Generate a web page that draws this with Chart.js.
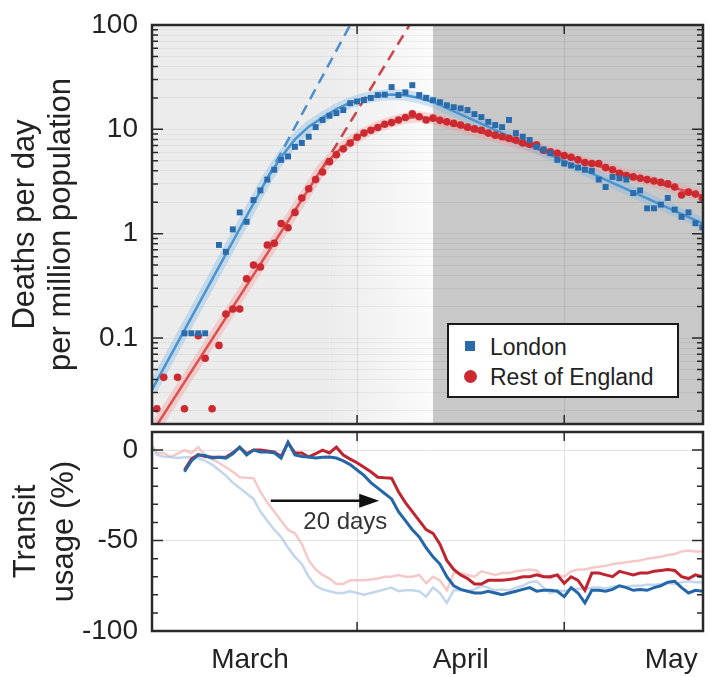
<!DOCTYPE html>
<html lang="en">
<head>
    <meta charset="UTF-8">
    <title>Deaths and transit usage - London vs Rest of England</title>
    <script src="https://cdn.jsdelivr.net/npm/chart.js"></script>
    <style>
        body {
            margin: 0;
            background: #fff;
            font-family: 'Liberation Sans', Arial, sans-serif;
        }

        .figure {
            position: relative;
            width: 728px;
            height: 677px;
        }

        #deathsChart {
            position: absolute;
            left: 0;
            top: 0;
        }

        #transitChart {
            position: absolute;
            left: 0;
            top: 425px;
        }

        .legend {
            position: absolute;
            left: 447px;
            top: 323px;
            width: 228px;
            height: 71px;
            border: 2px solid #1a1a1a;
            background: #fff;
            color: #222;
            font-size: 23px;
        }

        .legend .item {
            position: absolute;
            left: 41px;
            line-height: 30px;
            white-space: nowrap;
        }

        .legend .swatch {
            position: absolute;
        }

        .legend .square {
            left: 16px;
            top: 16px;
            width: 10px;
            height: 10px;
            background: #2a6cab;
        }

        .legend .dot {
            left: 15px;
            top: 45px;
            width: 13px;
            height: 13px;
            border-radius: 50%;
            background: #cc2a30;
        }
    </style>
</head>
<body>
    <div class="figure">
        <canvas id="deathsChart" width="728" height="440"></canvas>
        <canvas id="transitChart" width="728" height="252"></canvas>
        <div class="legend">
            <span class="swatch square"></span>
            <div class="item" style="top: 7px;">London</div>
            <span class="swatch dot"></span>
            <div class="item" style="top: 37px;">Rest of England</div>
        </div>
    </div>

    <script>
        // days are counted from 1 March (0 = 1 Mar, 31 = 1 Apr, 61 = 1 May)
        const xMin = 1.3;
        const xMax = 81.1;
        const monthStarts = [31, 61];
        const monthMids = [15.5, 46, 76.5];
        const monthLabels = ['March', 'April', 'May'];

        // top panel: deaths per day per million, one value per day from day 1
        const deathFirstDay = 1;
        const deathTickLabels = [0.1, 1, 10, 100];
        const londonDeaths = [
            0.037, null, null, null, null, 0.111, 0.111, 0.111, 0.111, null,
            0.78, 0.67, 1.1, 1.6, 1.3, 2.1, 2.6, 3.3, 4.1, 5.1,
            5.5, 6.8, 7.4, 8.5, 10.5, 12.3, 13.5, 14.3, 15.3, 17.8,
            18.5, 19.1, 20, 21.3, 21.5, 25.4, 21.3, 22.6, 26.5, 21.3,
            20, 19, 18.2, 17, 16.3, 15.9, 15.3, 14, 13.1, 11.8,
            11, 10.5, 12.3, 9.2, 8.5, 7.9, 6.8, 6.4, 5.9, 5.1,
            4.7, 4.5, 4.3, 4.1, 4.0, 3.3, 2.8, 3.5, 3.4, 3.3,
            2.45, 2.6, 1.75, 1.75, 1.9, 2.2, 1.7, 1.45, 1.6, 1.26,
            1.15
        ];
        const restDeaths = [
            null, 0.021, 0.042, null, 0.042, 0.021, null, 0.105, 0.064, 0.021,
            0.085, 0.17, 0.19, 0.19, 0.37, 0.5, 0.48, 0.78, 0.81, 1.25,
            1.14, 1.6, 2.2, 2.7, 3.3, 3.9, 4.9, 5.7, 6.5, 7.4,
            8.4, 9.2, 9.8, 10.4, 11.2, 11.6, 12.3, 13.0, 14.1, 13.2,
            12.3, 12.8, 12.2, 11.8, 11.4, 11.0, 10.5, 10.1, 9.8, 9.2,
            8.8, 8.5, 8.2, 7.9, 7.4, 7.2, 7.1, 6.3, 6.1, 5.9,
            5.6, 5.4, 5.1, 4.8, 4.7, 4.7, 4.3, 4.1, 3.8, 3.6,
            3.5, 3.4, 3.3, 3.2, 3.1, 3.0, 2.8, 2.35, 2.5, 2.4,
            2.2
        ];

        // fitted curves (knots)
        const londonFitDays = [1.3, 18, 20, 22, 24, 26, 28, 30, 32, 34, 36, 38, 40, 42, 81.1];
        const londonFit = [0.032, 3.4, 5.4, 8.0, 10.6, 13.0, 15.6, 18.0, 19.8, 21.0, 21.6, 21.2, 20.0, 18.3, 1.25];
        const restFitDays = [1.3, 26, 28, 30, 32, 34, 36, 38, 40, 42, 81.1];
        const restFit = [0.0124, 4.3, 6.0, 7.6, 9.2, 10.6, 11.8, 12.8, 13.2, 12.6, 2.3];

        // early exponential growth, extended (dashed)
        const londonTrendDays = [18, 30.0];
        const londonTrend = [3.4, 100];
        const restTrendDays = [26, 38.6];
        const restTrend = [4.3, 100];

        // bottom panel: transit usage (%), one value per day from day -14
        const transitFirstDay = -14;
        const transitShift = 20;
        const transitTickLabels = [-100, -50, 0];
        const londonTransit = [
            -12, -6, -2.7, -3, -4.4, -4, -4.5, -2, 1.6, -2.7,
            0, -1, -1, -1.5, -4.4, 4.4, -2.7, -3.5, -3.8, -4.4,
            -4, -3.8, -4.4, -6, -8, -11, -14, -18, -21, -24,
            -27, -34, -39, -44, -48, -54, -59, -63, -70, -75,
            -77, -78, -79, -79, -78, -79, -80, -79, -78, -77,
            -76, -78, -77.5, -77.5, -78, -81, -76, -79, -84.5, -77.5,
            -77.5, -78, -77, -75, -76, -77.5, -77, -77.5, -76, -75,
            -73, -72.5, -76, -79, -77.5, -78,
            -77, -76.5, -77, -76, -76, -76.5, -75.5, -75, -75.5, -75,
            -75, -74.5, -74.5, -74, -73.5, -74, -73, -72.5, -73, -73
        ];
        const restTransit = [
            -11, -5, -2.5, -3.5, -4, -4, -4, -1.5, 1.6, -2,
            0, 0, -0.5, -1, -3.5, 4, -1.5, -1.6, -3.8, -2,
            0, -1.6, 1.6, -2.7, -5, -7, -9.5, -12, -15, -15.3,
            -15.5, -23, -29, -34, -39, -44, -46, -52, -61, -66,
            -69, -71, -74, -74, -72, -72, -72, -71.5, -71, -70,
            -70, -69, -70, -70, -69, -73.6, -70, -72, -77.5, -68,
            -68, -69, -70, -67, -68, -69, -68, -68, -67, -66.5,
            -66, -66.5, -70, -71, -69, -70,
            -67, -66, -66, -65, -64.5, -64, -63, -62.5, -62, -61.5,
            -61, -60, -59.5, -59, -58, -57.5, -56, -55.5, -56, -56
        ];

        // annotation and shading
        const shadeFadeStart = 27;
        const shiftedLockdown = 42;
        const arrowFromDay = 18.5;
        const arrowToDay = 34.2;
        const arrowLevel = -28;
        const arrowText = '20 days';
        const arrowTextDay = 29.3;
        const arrowTextLevel = -40;

        const FONT = "'Liberation Sans', Arial, sans-serif";
        Chart.defaults.font.family = FONT;
        Chart.defaults.color = '#222';

        const byDay = (first, values) => values.map((v, i) => ({ x: first + i, y: v }));
        const pairs = (xs, ys) => xs.map((x, i) => ({ x: x, y: ys[i] }));

        // minor grid values for the log axis
        const deathGrid = [];
        [-2, -1, 0, 1].forEach(e => {
            for (let m = 1; m <= 9; m++) {
                const v = +(m * Math.pow(10, e)).toPrecision(6);
                if (v >= 0.015) deathGrid.push(v);
            }
        });
        deathGrid.push(100);
        const deathMinor = deathGrid.filter(v => !deathTickLabels.includes(v));
        const transitMinor = [-90, -80, -70, -60, -40, -30, -20, -10];

        // keep the plot boxes exactly where the figure has them
        const fixWidth = w => s => { s.width = w; s.paddingTop = 0; s.paddingBottom = 0; };
        const fixHeight = h => s => { s.height = h; s.paddingLeft = 0; s.paddingRight = 0; };

        function makeFrame(yMajor, yMinor) {
            return {
                id: 'frame',
                afterDraw(chart) {
                    const { ctx, chartArea: a } = chart;
                    const xs = chart.scales.x, ys = chart.scales.y;
                    ctx.save();
                    ctx.strokeStyle = '#2a2a2a';
                    ctx.lineWidth = 1.5;
                    ctx.beginPath();
                    const mark = (v, len) => {
                        const p = ys.getPixelForValue(v);
                        if (p < a.top + 1 || p > a.bottom - 1) return;
                        ctx.moveTo(a.left, p); ctx.lineTo(a.left + len, p);
                        ctx.moveTo(a.right, p); ctx.lineTo(a.right - len, p);
                    };
                    yMinor.forEach(v => mark(v, 6));
                    yMajor.forEach(v => mark(v, 11));
                    monthStarts.forEach(v => {
                        const p = xs.getPixelForValue(v);
                        ctx.moveTo(p, a.top); ctx.lineTo(p, a.top + 9);
                        ctx.moveTo(p, a.bottom); ctx.lineTo(p, a.bottom - 9);
                    });
                    ctx.stroke();
                    ctx.lineWidth = 2.5;
                    ctx.strokeRect(a.left, a.top, a.right - a.left, a.bottom - a.top);
                    ctx.restore();
                }
            };
        }

        const shadePlugin = {
            id: 'shade',
            beforeDraw(chart) {
                const { ctx, chartArea: a } = chart;
                const xs = chart.scales.x;
                const xFade = xs.getPixelForValue(shadeFadeStart);
                const xLock = xs.getPixelForValue(shiftedLockdown);
                ctx.save();
                ctx.fillStyle = '#ececec';
                ctx.fillRect(a.left, a.top, xFade - a.left, a.bottom - a.top);
                const g = ctx.createLinearGradient(xFade, 0, xLock, 0);
                g.addColorStop(0, '#ececec');
                g.addColorStop(1, '#fbfbfb');
                ctx.fillStyle = g;
                ctx.fillRect(xFade, a.top, xLock - xFade, a.bottom - a.top);
                ctx.fillStyle = '#c8c8c8';
                ctx.fillRect(xLock, a.top, a.right - xLock, a.bottom - a.top);
                ctx.restore();
            }
        };

        const arrowPlugin = {
            id: 'shiftArrow',
            afterDatasetsDraw(chart) {
                const { ctx } = chart;
                const xs = chart.scales.x, ys = chart.scales.y;
                const x0 = xs.getPixelForValue(arrowFromDay);
                const x1 = xs.getPixelForValue(arrowToDay);
                const y = ys.getPixelForValue(arrowLevel);
                ctx.save();
                ctx.strokeStyle = '#111';
                ctx.fillStyle = '#111';
                ctx.lineWidth = 2.5;
                ctx.beginPath();
                ctx.moveTo(x0, y);
                ctx.lineTo(x1 - 16, y);
                ctx.stroke();
                ctx.beginPath();
                ctx.moveTo(x1, y);
                ctx.lineTo(x1 - 20, y - 7);
                ctx.lineTo(x1 - 20, y + 7);
                ctx.closePath();
                ctx.fill();
                ctx.font = '24px ' + FONT;
                ctx.textAlign = 'center';
                ctx.textBaseline = 'middle';
                ctx.fillStyle = '#333';
                ctx.fillText(arrowText, xs.getPixelForValue(arrowTextDay), ys.getPixelForValue(arrowTextLevel));
                ctx.restore();
            }
        };

        const lineSet = (data, color, width, extra) => Object.assign({
            data: data,
            showLine: true,
            borderColor: color,
            borderWidth: width,
            pointRadius: 0,
            fill: false,
            clip: 0
        }, extra || {});

        // Deaths chart
        new Chart(document.getElementById('deathsChart'), {
            type: 'scatter',
            data: {
                datasets: [
                    {
                        label: 'London',
                        data: byDay(deathFirstDay, londonDeaths),
                        pointStyle: 'rect',
                        pointRadius: 4.2,
                        backgroundColor: '#2a6cab',
                        borderWidth: 0
                    },
                    {
                        label: 'Rest of England',
                        data: byDay(deathFirstDay, restDeaths),
                        pointStyle: 'circle',
                        pointRadius: 3.8,
                        backgroundColor: '#cc2a30',
                        borderWidth: 0
                    },
                    lineSet(pairs(londonFitDays, londonFit), '#4a93cf', 2.5),
                    lineSet(pairs(restFitDays, restFit), '#dc5050', 2.5),
                    lineSet(pairs(londonTrendDays, londonTrend), '#4a8fcb', 2.5, { borderDash: [11, 7] }),
                    lineSet(pairs(restTrendDays, restTrend), '#c8454a', 2.5, { borderDash: [11, 7] }),
                    lineSet(pairs(londonFitDays, londonFit), 'rgba(120, 180, 230, 0.35)', 11),
                    lineSet(pairs(restFitDays, restFit), 'rgba(245, 150, 150, 0.35)', 11)
                ]
            },
            options: {
                responsive: false,
                animation: false,
                events: [],
                layout: { padding: { top: 25, right: 25, bottom: 16, left: 0 } },
                plugins: { legend: { display: false }, tooltip: { enabled: false } },
                scales: {
                    x: {
                        type: 'linear',
                        min: xMin,
                        max: xMax,
                        afterFit: fixHeight(0),
                        afterBuildTicks: s => { s.ticks = monthStarts.map(v => ({ value: v })); },
                        ticks: { display: false },
                        grid: { color: 'rgba(0, 0, 0, 0.09)', drawTicks: false },
                        border: { display: false }
                    },
                    y: {
                        type: 'logarithmic',
                        min: 0.015,
                        max: 100,
                        afterFit: fixWidth(152),
                        afterBuildTicks: s => { s.ticks = deathGrid.map(v => ({ value: v })); },
                        ticks: {
                            autoSkip: false,
                            padding: 14,
                            color: '#222',
                            font: { size: 28 },
                            callback: v => deathTickLabels.includes(v) ? String(v) : ''
                        },
                        grid: { color: 'rgba(0, 0, 0, 0.05)', drawTicks: false },
                        border: { display: false },
                        title: {
                            display: true,
                            text: ['Deaths per day', 'per million population'],
                            color: '#222',
                            font: { size: 31, lineHeight: 1.15 },
                            padding: { top: 8, bottom: 0 }
                        }
                    }
                }
            },
            plugins: [shadePlugin, makeFrame(deathTickLabels, deathMinor)]
        });

        // Transit chart: dark = shifted forward 20 days, faint = actual dates
        const shiftedFirst = transitFirstDay + transitShift;
        new Chart(document.getElementById('transitChart'), {
            type: 'scatter',
            data: {
                datasets: [
                    lineSet(byDay(shiftedFirst, londonTransit), '#2467a8', 3),
                    lineSet(byDay(shiftedFirst, restTransit), '#bf2530', 3),
                    lineSet(byDay(transitFirstDay, londonTransit), 'rgba(170, 196, 228, 0.7)', 2.5),
                    lineSet(byDay(transitFirstDay, restTransit), 'rgba(242, 178, 178, 0.7)', 2.5)
                ]
            },
            options: {
                responsive: false,
                animation: false,
                events: [],
                layout: { padding: { top: 7, right: 25, bottom: 0, left: 0 } },
                plugins: { legend: { display: false }, tooltip: { enabled: false } },
                scales: {
                    x: {
                        type: 'linear',
                        min: xMin,
                        max: xMax,
                        afterFit: fixHeight(46),
                        afterBuildTicks: s => {
                            s.ticks = monthMids.concat(monthStarts).sort((a, b) => a - b).map(v => ({ value: v }));
                        },
                        ticks: {
                            autoSkip: false,
                            maxRotation: 0,
                            padding: 12.5,
                            color: '#222',
                            font: { size: 28 },
                            callback: v => {
                                const i = monthMids.indexOf(v);
                                return i >= 0 ? monthLabels[i] : '';
                            }
                        },
                        grid: {
                            drawTicks: false,
                            color: c => (c.tick && monthStarts.includes(c.tick.value)) ? '#e2e2e2' : 'rgba(0, 0, 0, 0)'
                        },
                        border: { display: false }
                    },
                    y: {
                        type: 'linear',
                        min: -100,
                        max: 10,
                        afterFit: fixWidth(152),
                        afterBuildTicks: s => { s.ticks = transitTickLabels.map(v => ({ value: v })); },
                        ticks: {
                            autoSkip: false,
                            padding: 14,
                            color: '#222',
                            font: { size: 28 },
                            callback: v => String(v)
                        },
                        grid: {
                            drawTicks: false,
                            color: c => (c.tick && c.tick.value > -100) ? '#e2e2e2' : 'rgba(0, 0, 0, 0)'
                        },
                        border: { display: false },
                        title: {
                            display: true,
                            text: ['Transit', 'usage (%)'],
                            color: '#222',
                            font: { size: 31, lineHeight: 1.22 },
                            padding: { top: 7.5, bottom: 0 }
                        }
                    }
                }
            },
            plugins: [arrowPlugin, makeFrame([0, -50], transitMinor)]
        });
    </script>
</body>
</html>
